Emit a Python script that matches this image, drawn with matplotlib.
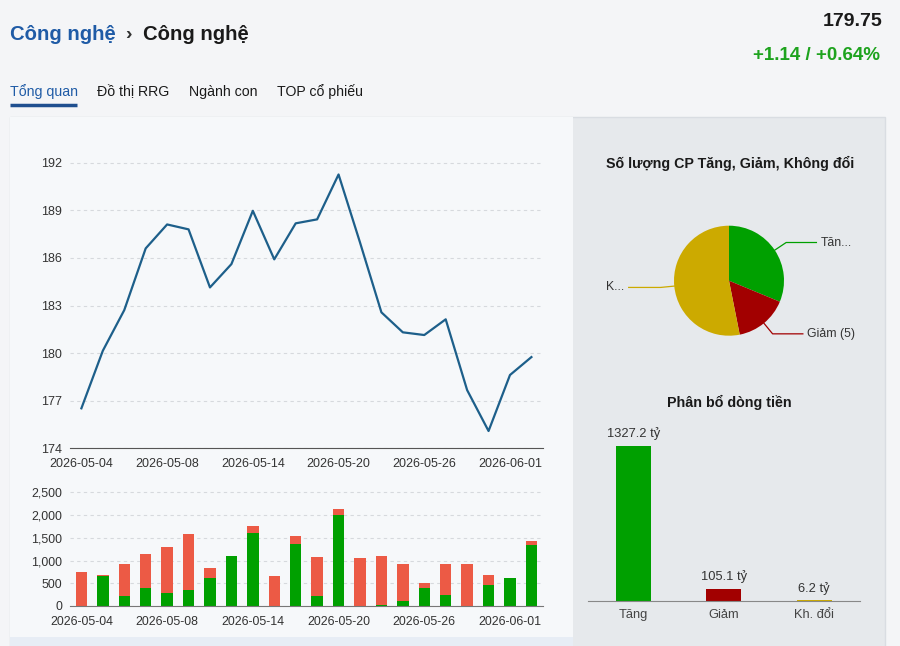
import matplotlib
matplotlib.use('Agg')
import matplotlib.pyplot as plt
from matplotlib.patches import Rectangle
from matplotlib.ticker import FuncFormatter
import numpy as np

plt.rcParams['font.family'] = ['Liberation Sans', 'DejaVu Sans']

# ---- data ----
dates = ['2026-05-04', '2026-05-05', '2026-05-06', '2026-05-07', '2026-05-08',
         '2026-05-11', '2026-05-12', '2026-05-13', '2026-05-14', '2026-05-15',
         '2026-05-18', '2026-05-19', '2026-05-20', '2026-05-21', '2026-05-22',
         '2026-05-25', '2026-05-26', '2026-05-27', '2026-05-28', '2026-05-29',
         '2026-06-01', '2026-06-02']
close = [176.52, 180.15, 182.71, 186.60, 188.11, 187.80, 184.14, 185.61,
         188.97, 185.91, 188.18, 188.43, 191.26, 186.98, 182.57, 181.31,
         181.14, 182.13, 177.67, 175.09, 178.62, 179.75]
vol_up = [0, 660, 220, 388, 293, 352, 608, 1107, 1613, 0, 1363, 220,
          2001, 0, 22, 117, 388, 242, 0, 454, 623, 1334]
vol_total = [755, 689, 916, 1151, 1290, 1576, 836, 1107, 1759, 652, 1532, 1078,
             2126, 1056, 1100, 916, 498, 924, 931, 689, 623, 1437]
vol_down = [t - u for t, u in zip(vol_total, vol_up)]

pie_labels = ['Tăn...', 'Giảm (5)', 'K...']
pie_counts = [10, 5, 17]
flow_cats = ['Tăng', 'Giảm', 'Kh. đổi']
flow_vals = [1327.2, 105.1, 6.2]

GREEN = '#00a000'
DARKRED = '#a20000'
YELLOW = '#ccaa00'
RED = '#ec5a45'
TXT = '#333333'

W, H = 900, 646
fig = plt.figure(figsize=(W / 100, H / 100), dpi=100, facecolor='#f4f5f7')


def px_axes(x0, y0, x1, y1, z=1):
    ax = fig.add_axes([x0 / W, 1 - y1 / H, (x1 - x0) / W, (y1 - y0) / H], zorder=z)
    ax.patch.set_alpha(0)
    return ax


# background / page layout
bg = px_axes(0, 0, W, H, z=0)
bg.set_xlim(0, W)
bg.set_ylim(H, 0)
bg.axis('off')
bg.add_patch(Rectangle((10, 117), 875, 540, facecolor='#e6e9ec', edgecolor='#d9dde2', lw=1))
bg.add_patch(Rectangle((10, 117), 563, 520, facecolor='#f6f8fa', edgecolor='none'))
bg.add_patch(Rectangle((10, 637), 563, 12, facecolor='#e7edf5', edgecolor='none'))

bg.text(10, 34, 'Công nghệ', color='#1f5ba6', fontsize=14.6, fontweight='bold', va='center')
bg.text(128, 35, '›', color=TXT, fontsize=14, fontweight='bold', va='center', ha='center')
bg.text(143, 34, 'Công nghệ', color='#1a1a1a', fontsize=14.6, fontweight='bold', va='center')
bg.text(883, 21, '179.75', color='#1a1a1a', fontsize=14, fontweight='bold', va='center', ha='right')
bg.text(880, 56, '+1.14 / +0.64%', color='#1ea31e', fontsize=13.5, fontweight='bold',
        va='center', ha='right')

tabs = ['Tổng quan', 'Đồ thị RRG', 'Ngành con', 'TOP cổ phiếu']
tab_x = [10, 97, 189, 277]
for i, (t, x) in enumerate(zip(tabs, tab_x)):
    bg.text(x, 92, t, color='#1f5ba6' if i == 0 else '#1a1a1a', fontsize=10.2, va='center')
bg.plot([10, 77], [105, 105], color='#1f4f8f', lw=2.5, solid_capstyle='butt')

x = np.arange(len(dates))
tick_idx = list(range(0, len(dates), 4))

# ---- price line ----
ax1 = px_axes(70, 154.8, 543.2, 448.3)
ax1.plot(x, close, color='#1d5f8a', lw=1.6)
ax1.set_xlim(-0.532, 21.55)
ax1.set_ylim(174, 192.5)
ax1.set_yticks(np.arange(174, 193, 3))
ax1.set_xticks(tick_idx)
ax1.set_xticklabels([dates[i] for i in tick_idx])
ax1.grid(axis='y', color='#d6d9dd', ls=(0, (3, 3)), lw=0.8)
for s in ['top', 'right', 'left']:
    ax1.spines[s].set_visible(False)
ax1.spines['bottom'].set_color('#555555')
ax1.tick_params(length=0, labelsize=9, colors=TXT)
ax1.tick_params(axis='y', pad=6)
ax1.tick_params(axis='x', pad=7)

# ---- volume bars ----
ax2 = px_axes(70, 487.8, 543.2, 606)
ax2.bar(x, vol_up, width=0.53, color=GREEN, zorder=2)
ax2.bar(x, vol_down, width=0.53, bottom=vol_up, color=RED, zorder=2)
ax2.set_xlim(-0.532, 21.55)
ax2.set_ylim(0, 2600)
ax2.set_yticks(np.arange(0, 2501, 500))
ax2.yaxis.set_major_formatter(FuncFormatter(lambda v, p: f'{int(v):,}'))
ax2.set_xticks(tick_idx)
ax2.set_xticklabels([dates[i] for i in tick_idx])
ax2.grid(axis='y', color='#d6d9dd', ls=(0, (3, 3)), lw=0.8, zorder=0)
for s in ['top', 'right', 'left']:
    ax2.spines[s].set_visible(False)
ax2.spines['bottom'].set_color('#777777')
ax2.tick_params(length=0, labelsize=8.9, colors=TXT)
ax2.tick_params(axis='y', pad=5.5)
ax2.tick_params(axis='x', pad=7)

# ---- pie ----
bg.text(730, 163, 'Số lượng CP Tăng, Giảm, Không đổi', color='#1a1a1a', fontsize=10.3,
        fontweight='bold', ha='center', va='center')
cx, cy, r = 729, 280.7, 55
ax3 = px_axes(cx - r, cy - r, cx + r, cy + r)
pie_colors = [GREEN, DARKRED, YELLOW]
wedges, _ = ax3.pie(pie_counts, colors=pie_colors, startangle=90, counterclock=False,
                    radius=1, wedgeprops=dict(lw=0))
ax3.set_xlim(-1, 1)
ax3.set_ylim(-1, 1)
ax3.set_aspect('equal')
ax3.axis('off')
for w, lab, c in zip(wedges, pie_labels, pie_colors):
    ang = np.deg2rad((w.theta1 + w.theta2) / 2)
    ex, ey = np.cos(ang), np.sin(ang)
    kx, ky = ex * 1.25, ey * 1.25
    side = 1 if ex >= 0 else -1
    hx = kx + side * (0.55 if side > 0 else 0.58)
    ax3.plot([ex, kx, hx], [ey, ky, ky], color=c, lw=0.9, clip_on=False)
    ax3.text(hx + side * 0.08, ky, lab, color=TXT, fontsize=8.8,
             ha='left' if side > 0 else 'right', va='center')

# ---- money flow ----
bg.text(729, 402.7, 'Phân bổ dòng tiền', color='#1a1a1a', fontsize=10.3,
        fontweight='bold', ha='center', va='center')
ax4 = px_axes(588, 420, 860, 601)
xf = np.arange(len(flow_cats))
bars = ax4.bar(xf, flow_vals, width=0.39, color=pie_colors)
ax4.set_xlim(-0.504, 2.508)
ax4.set_ylim(0, 1550)
ax4.set_yticks([])
ax4.set_xticks(xf)
ax4.set_xticklabels(flow_cats)
for s in ['top', 'right', 'left']:
    ax4.spines[s].set_visible(False)
ax4.spines['bottom'].set_color('#888888')
ax4.tick_params(length=0, labelsize=9.3, colors='#444444', pad=6)
for b, v in zip(bars, flow_vals):
    ax4.annotate(f'{v} tỷ', (b.get_x() + b.get_width() / 2, v), xytext=(0, 4),
                 textcoords='offset points', ha='center', va='bottom', fontsize=9.3, color=TXT)

fig.savefig('out.png', dpi=100, facecolor=fig.get_facecolor())
